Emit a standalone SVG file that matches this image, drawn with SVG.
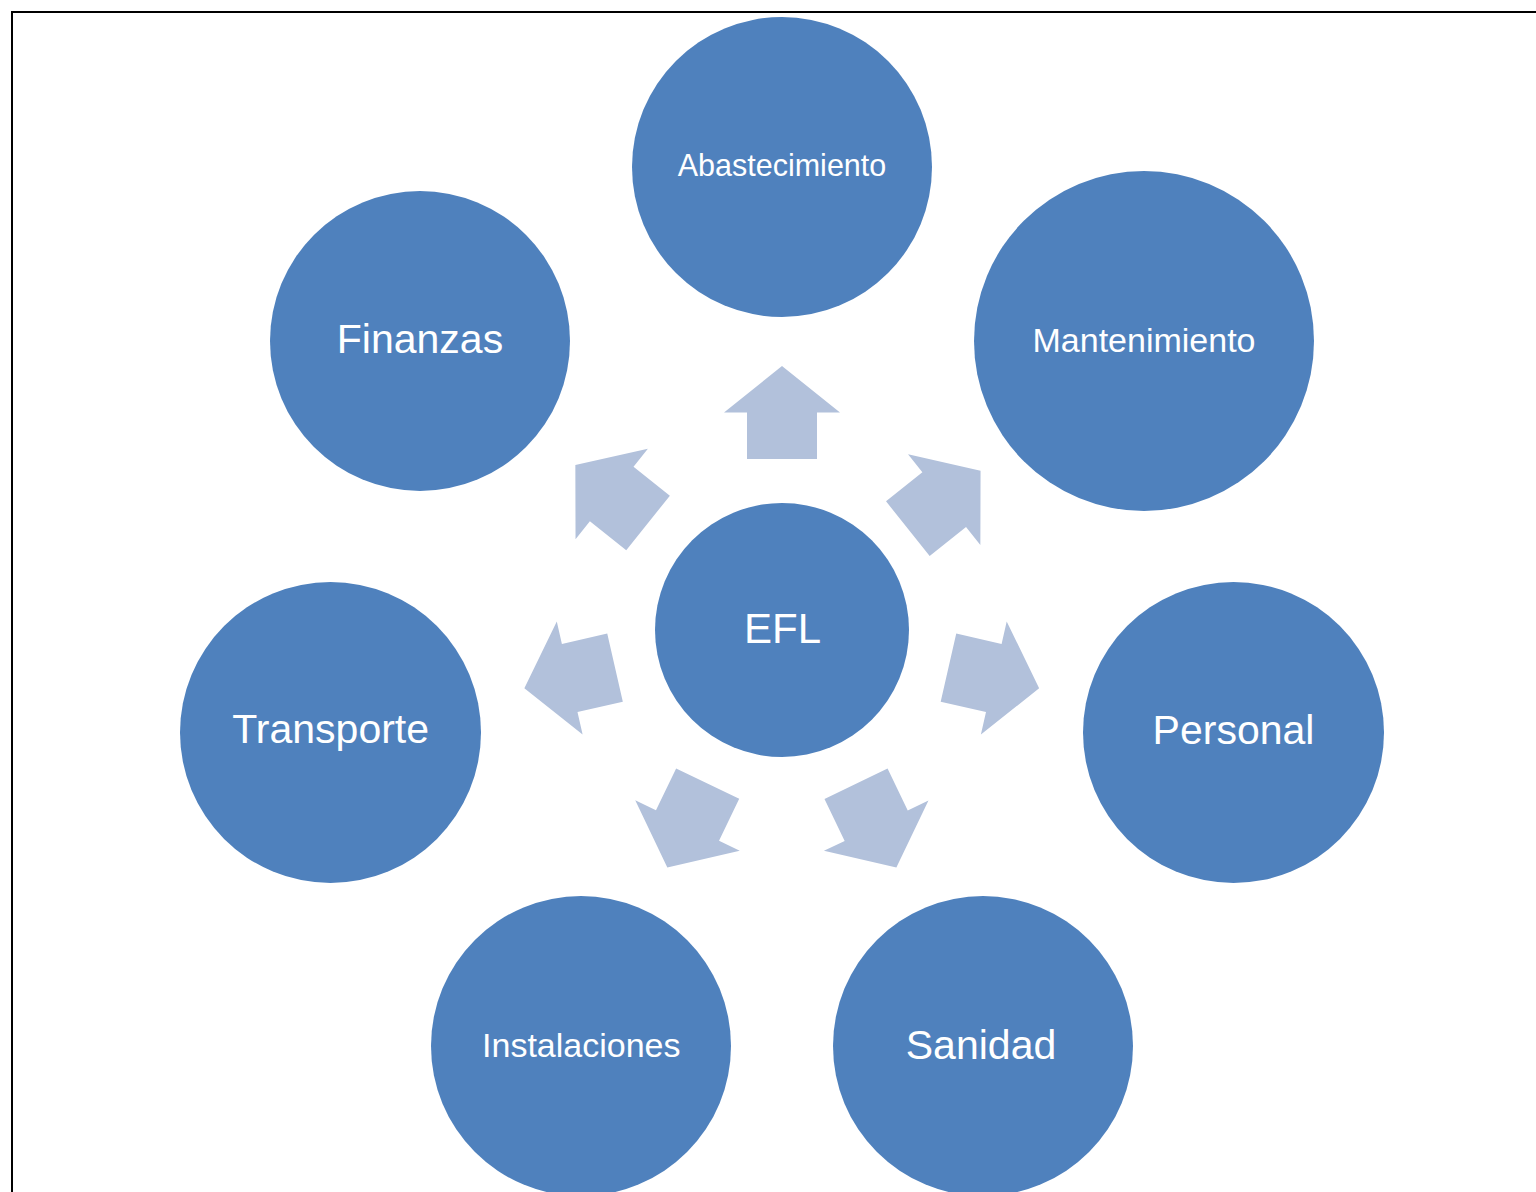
<svg xmlns="http://www.w3.org/2000/svg" width="1536" height="1192" viewBox="0 0 1536 1192">
<defs>
<style>
.node{fill:#4F81BD}
.lbl{fill:#FFFFFF;font-family:"Liberation Sans",Arial,sans-serif;text-anchor:middle}
.big{font-size:41px}
.small{font-size:34px}
.arrow{fill:#B2C1DB}
.frame{stroke:#000;stroke-width:2;fill:none}
</style>
<path id="arr" d="M0,-46.5 L58,0 L35,0 L35,46.5 L-35,46.5 L-35,0 L-58,0 Z"/>
</defs>
<rect width="1536" height="1192" fill="#FFFFFF"/>
<path class="frame" d="M12,1192 L12,12 L1536,12"/>
<g id="connectors">
<use href="#arr" class="arrow" transform="translate(782,412.5)"/>
<use href="#arr" class="arrow" transform="translate(944.2,499.7) rotate(51.43)"/>
<use href="#arr" class="arrow" transform="translate(993.8,678) rotate(102.86)"/>
<use href="#arr" class="arrow" transform="translate(876.2,825.7) rotate(154.29)"/>
<use href="#arr" class="arrow" transform="translate(687.5,825.5) rotate(205.71)"/>
<use href="#arr" class="arrow" transform="translate(569.7,678) rotate(257.14)"/>
<use href="#arr" class="arrow" transform="translate(611.7,494) rotate(308.57)"/>
</g>
<g id="node-efl">
<circle class="node" cx="782" cy="630" r="127"/>
<text class="lbl" x="782.5" y="642.5" style="font-size:42px">EFL</text>
</g>
<g id="node-abastecimiento">
<circle class="node" cx="782" cy="167" r="150"/>
<text class="lbl" x="782" y="175.5" style="font-size:30.5px">Abastecimiento</text>
</g>
<g id="node-mantenimiento">
<circle class="node" cx="1144" cy="341" r="170"/>
<text class="lbl small" x="1144" y="351.5">Mantenimiento</text>
</g>
<g id="node-personal">
<circle class="node" cx="1233.5" cy="732.5" r="150.5"/>
<text class="lbl big" x="1233.5" y="744">Personal</text>
</g>
<g id="node-sanidad">
<circle class="node" cx="983" cy="1046" r="150"/>
<text class="lbl big" x="981" y="1058.5">Sanidad</text>
</g>
<g id="node-instalaciones">
<circle class="node" cx="581" cy="1046" r="150"/>
<text class="lbl small" x="581.3" y="1056.5">Instalaciones</text>
</g>
<g id="node-transporte">
<circle class="node" cx="330.5" cy="732.5" r="150.5"/>
<text class="lbl big" x="330.7" y="743.3">Transporte</text>
</g>
<g id="node-finanzas">
<circle class="node" cx="420" cy="341" r="150"/>
<text class="lbl big" x="420" y="352.7">Finanzas</text>
</g>
</svg>
